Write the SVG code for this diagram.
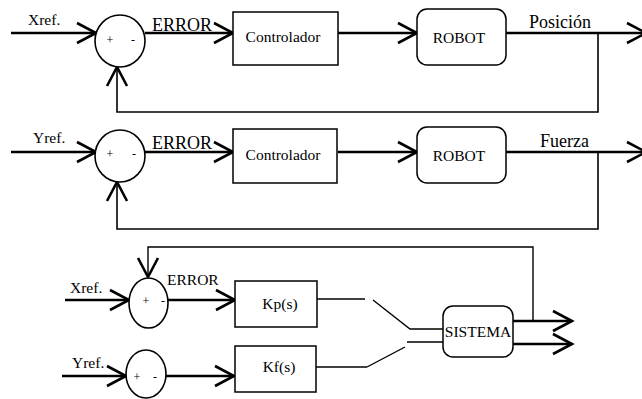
<svg xmlns="http://www.w3.org/2000/svg" width="642" height="399" viewBox="0 0 642 399" font-family="'Liberation Serif', 'DejaVu Serif', serif">
<defs>
<style>
text{font-family:'Liberation Serif','DejaVu Serif',serif;fill:#000;font-weight:normal}
.box{fill:#fff;stroke:#000;stroke-width:1.5}
.sum{fill:#fff;stroke:#000;stroke-width:1.6}
.sig{fill:none;stroke:#000;stroke-width:2.4}
.fb{fill:none;stroke:#000;stroke-width:1.6}
.thin{fill:none;stroke:#000;stroke-width:1.4}
.lbl{font-size:15.5px}
.big{font-size:18px}
.sgn{font-size:12px}
</style>
<marker id="arr" viewBox="0 0 24 24" refX="21" refY="11" markerWidth="24" markerHeight="24" markerUnits="userSpaceOnUse" orient="auto" overflow="visible">
<path d="M2,1 L21,11 L2,21" fill="none" stroke="#000" stroke-width="2.6"/>
</marker>
</defs>
<rect width="642" height="399" fill="#fff"/>

<g id="connectors">
<line class="sig" x1="11" y1="33" x2="96" y2="33" marker-end="url(#arr)"/>
<line class="sig" x1="145" y1="33" x2="233" y2="33" marker-end="url(#arr)"/>
<line class="sig" x1="338" y1="33" x2="417" y2="33" marker-end="url(#arr)"/>
<line class="sig" x1="506" y1="33" x2="646" y2="33" marker-end="url(#arr)"/>
<polyline class="fb" points="598,33 598,112 117,112 117,67" marker-end="url(#arr)"/>
<line class="sig" x1="11" y1="152" x2="96" y2="152" marker-end="url(#arr)"/>
<line class="sig" x1="145" y1="152" x2="233" y2="152" marker-end="url(#arr)"/>
<line class="sig" x1="338" y1="152" x2="417" y2="152" marker-end="url(#arr)"/>
<line class="sig" x1="506" y1="152" x2="646" y2="152" marker-end="url(#arr)"/>
<polyline class="fb" points="598,152 598,229 117,229 117,182" marker-end="url(#arr)"/>
<line class="sig" x1="65" y1="300" x2="129" y2="300" marker-end="url(#arr)"/>
<line class="sig" x1="168" y1="300" x2="235" y2="300" marker-end="url(#arr)"/>
<line class="sig" x1="62" y1="376" x2="126" y2="376" marker-end="url(#arr)"/>
<line class="sig" x1="166" y1="376" x2="234" y2="376" marker-end="url(#arr)"/>
<line class="thin" x1="317" y1="299" x2="365" y2="299"/>
<polyline class="thin" points="373,300 410,329 443,329"/>
<line class="thin" x1="316" y1="367" x2="367" y2="367"/>
<line class="thin" x1="367" y1="367" x2="405" y2="347"/>
<line class="thin" x1="407" y1="342" x2="443" y2="342"/>
<line class="sig" x1="513" y1="321" x2="572" y2="321" marker-end="url(#arr)"/>
<line class="sig" x1="513" y1="344" x2="572" y2="344" marker-end="url(#arr)"/>
<polyline class="thin" points="533,321 533,247 148,247 148,277" marker-end="url(#arr)"/>
</g>

<g id="label-xref1"><text class="lbl" x="28" y="25">Xref.</text></g>
<g id="sum1">
<ellipse class="sum" cx="120" cy="41" rx="25" ry="26"/>
<text class="sgn" x="110" y="44" text-anchor="middle">+</text>
<text class="sgn" x="133" y="44" text-anchor="middle">-</text>
</g>
<g id="label-error1"><text class="big" x="152" y="31">ERROR</text></g>
<g id="controlador1">
<rect class="box" x="233" y="12" width="105" height="53"/>
<text class="lbl" x="283" y="42" text-anchor="middle">Controlador</text>
</g>
<g id="robot1">
<rect class="box" x="417" y="9" width="89" height="56" rx="10"/>
<text class="lbl" x="459" y="43" text-anchor="middle">ROBOT</text>
</g>
<g id="label-posicion"><text class="big" x="529" y="28">Posición</text></g>

<g id="label-yref1"><text class="lbl" x="33" y="143">Yref.</text></g>
<g id="sum2">
<ellipse class="sum" cx="120" cy="156" rx="25" ry="26"/>
<text class="sgn" x="110" y="158" text-anchor="middle">+</text>
<text class="sgn" x="134" y="158" text-anchor="middle">-</text>
</g>
<g id="label-error2"><text class="big" x="152" y="149">ERROR</text></g>
<g id="controlador2">
<rect class="box" x="233" y="129" width="104" height="54"/>
<text class="lbl" x="283" y="160" text-anchor="middle">Controlador</text>
</g>
<g id="robot2">
<rect class="box" x="417" y="127" width="89" height="56" rx="10"/>
<text class="lbl" x="459" y="161" text-anchor="middle">ROBOT</text>
</g>
<g id="label-fuerza"><text class="big" x="540" y="147">Fuerza</text></g>

<g id="label-xref2"><text class="lbl" x="70" y="293">Xref.</text></g>
<g id="sum3">
<ellipse class="sum" cx="148.5" cy="303" rx="19.5" ry="25"/>
<text class="sgn" x="146" y="305" text-anchor="middle">+</text>
<text class="sgn" x="163" y="305" text-anchor="middle">-</text>
</g>
<g id="label-error3"><text class="lbl" x="167" y="285">ERROR</text></g>
<g id="kp">
<rect class="box" x="235" y="281" width="82" height="46"/>
<text class="lbl" x="280" y="309" text-anchor="middle">Kp(s)</text>
</g>
<g id="label-yref2"><text class="lbl" x="72" y="368">Yref.</text></g>
<g id="sum4">
<ellipse class="sum" cx="146" cy="374" rx="20" ry="24"/>
<text class="sgn" x="137" y="381" text-anchor="middle">+</text>
<text class="sgn" x="155" y="381" text-anchor="middle">-</text>
</g>
<g id="kf">
<rect class="box" x="235" y="346" width="81" height="46"/>
<text class="lbl" x="279" y="372" text-anchor="middle">Kf(s)</text>
</g>
<g id="sistema">
<rect class="box" x="443" y="306" width="70" height="51" rx="10"/>
<text class="lbl" x="478" y="337" text-anchor="middle">SISTEMA</text>
</g>
</svg>
